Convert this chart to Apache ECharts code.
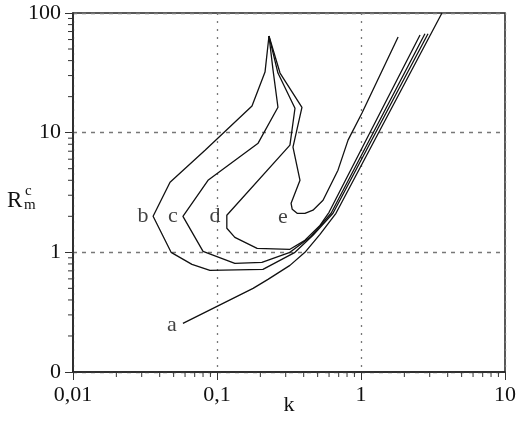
<!DOCTYPE html>
<html><head><meta charset="utf-8">
<script src="https://cdn.jsdelivr.net/npm/echarts@6/dist/echarts.min.js"></script>
<style>html,body{margin:0;padding:0;background:#fff}#c{width:518px;height:422px}</style>
</head><body><div id="c"></div><script>
// Curves: [k, R] pairs
const curveA = [[0.058,0.255],[0.178,0.5],[0.226,0.594],[0.321,0.778],[0.408,1.0],[0.519,1.415],[0.670,2.12],[3.65,100]];
const curveB = [[0.2296,64.2],[0.2155,32.1],[0.175,16.7],[0.0826,7.14],[0.0472,3.85],[0.036,2.0],[0.048,1.0],[0.067,0.794],[0.0893,0.707],[0.2085,0.721],[0.348,1.0],[0.464,1.388],[0.639,2.12],[2.92,67]];
const curveC = [[0.2296,64.2],[0.245,33.3],[0.265,16.3],[0.193,8.17],[0.0866,4.0],[0.058,2.0],[0.080,1.02],[0.133,0.809],[0.205,0.825],[0.321,1.0],[0.443,1.335],[0.620,2.12],[2.78,67]];
const curveD = [[0.2296,64.2],[0.265,31.5],[0.348,16.0],[0.321,7.86],[0.117,2.04],[0.117,1.59],[0.133,1.335],[0.190,1.08],[0.321,1.06],[0.408,1.26],[0.519,1.68],[0.600,2.16],[2.57,65.5]];
const curveE = [[0.2296,64.2],[0.274,31.5],[0.389,16.3],[0.337,7.56],[0.377,4.0],[0.327,2.57],[0.333,2.29],[0.36,2.12],[0.408,2.12],[0.464,2.25],[0.545,2.72],[0.692,4.86],[0.813,8.66],[1.016,14.6],[1.81,63.0]];
const curveNames = ['a','b','c','d','e'];
const labelPoints = [[0.0487,0.245,'a'],[0.0306,2.0,'b'],[0.0494,2.0,'c'],[0.0968,2.0,'d'],[0.287,1.96,'e']];
// Tick labels
const xTickValues = [0.01,0.1,1,10];
const xTickLabels = ['0,01','0,1','1','10'];
const yTickValues = [0.1,1,10,100];
const yTickLabels = ['0','1','10','100'];
const xMinor = [0.02,0.03,0.04,0.05,0.06,0.07,0.08,0.09,0.2,0.3,0.4,0.5,0.6,0.7,0.8,0.9,2,3,4,5,6,7,8,9];
const yMinor = [0.2,0.3,0.4,0.5,0.6,0.7,0.8,0.9,2,3,4,5,6,7,8,9,20,30,40,50,60,70,80,90];

const FONT = "'Liberation Serif','DejaVu Serif',serif";
function pick(vals, labels, v){
  let bi=0, bd=Infinity;
  vals.forEach((t,i)=>{const d=Math.abs(Math.log10(t)-Math.log10(v)); if(d<bd){bd=d;bi=i;}});
  return labels[bi];
}
const chart = echarts.init(document.getElementById('c'), null, {renderer:'canvas'});
const curves = [curveA,curveB,curveC,curveD,curveE];
const series = curves.map((d,i)=>({
  name: curveNames[i], type:'line', data:d, symbol:'none', smooth:false,
  lineStyle:{color:'#111', width:1.3}, z:3
}));
series.push({
  type:'scatter', data:labelPoints, symbolSize:0, silent:true,
  label:{show:true, position:'inside', formatter:p=>p.data[2], color:'#111', fontFamily:FONT, fontSize:22}
});
series.push({
  type:'custom', coordinateSystem:'cartesian2d', silent:true, clip:false, z:5,
  data: xMinor.map(v=>[v,0.1]),
  renderItem:(params, api)=>{const p=api.coord([api.value(0),api.value(1)]);
    return {type:'line', shape:{x1:p[0],y1:p[1],x2:p[0],y2:p[1]+5}, style:{stroke:'#333',lineWidth:1}};}
});
series.push({
  type:'custom', coordinateSystem:'cartesian2d', silent:true, clip:false, z:5,
  data: yMinor.map(v=>[0.01,v]),
  renderItem:(params, api)=>{const p=api.coord([api.value(0),api.value(1)]);
    return {type:'line', shape:{x1:p[0]-5,y1:p[1],x2:p[0],y2:p[1]}, style:{stroke:'#333',lineWidth:1}};}
});
chart.setOption({
  animation:false,
  backgroundColor:'#fff',
  grid:{left:73, right:13, top:13, bottom:50, containLabel:false, outerBoundsMode:'none', show:true, borderColor:'#222', borderWidth:1.5, backgroundColor:'transparent'},
  xAxis:{type:'log', logBase:10, min:0.01, max:10,
    name:'k', nameLocation:'middle', nameGap:22, nameMoveOverlap:false, nameTextStyle:{fontFamily:FONT, fontSize:22, color:'#111', verticalAlign:'top'},
    axisLine:{lineStyle:{color:'#222', width:1.5}},
    axisTick:{show:true, length:8, lineStyle:{color:'#333'}},
    axisLabel:{margin:12, fontFamily:FONT, fontSize:22, color:'#111', formatter:v=>pick(xTickValues,xTickLabels,v)},
    splitLine:{show:true, lineStyle:{color:'#777', type:[2,6], width:1.3}}
  },
  yAxis:{type:'log', logBase:10, min:0.1, max:100,
    axisLine:{lineStyle:{color:'#222', width:1.5}},
    axisTick:{show:true, length:8, lineStyle:{color:'#333'}},
    axisLabel:{margin:12, fontFamily:FONT, fontSize:22, color:'#111', formatter:v=>pick(yTickValues,yTickLabels,v)},
    splitLine:{show:true, lineStyle:{color:'#777', type:[4,5], width:1.3}}
  },
  graphic:[
    {type:'text', left:7, top:189, style:{text:'R', font:"23px "+FONT, fill:'#111'}},
    {type:'text', left:25, top:184, style:{text:'c', font:"15px "+FONT, fill:'#111'}},
    {type:'text', left:24, top:198, style:{text:'m', font:"15px "+FONT, fill:'#111'}}
  ],
  series: series
});
</script></body></html>
